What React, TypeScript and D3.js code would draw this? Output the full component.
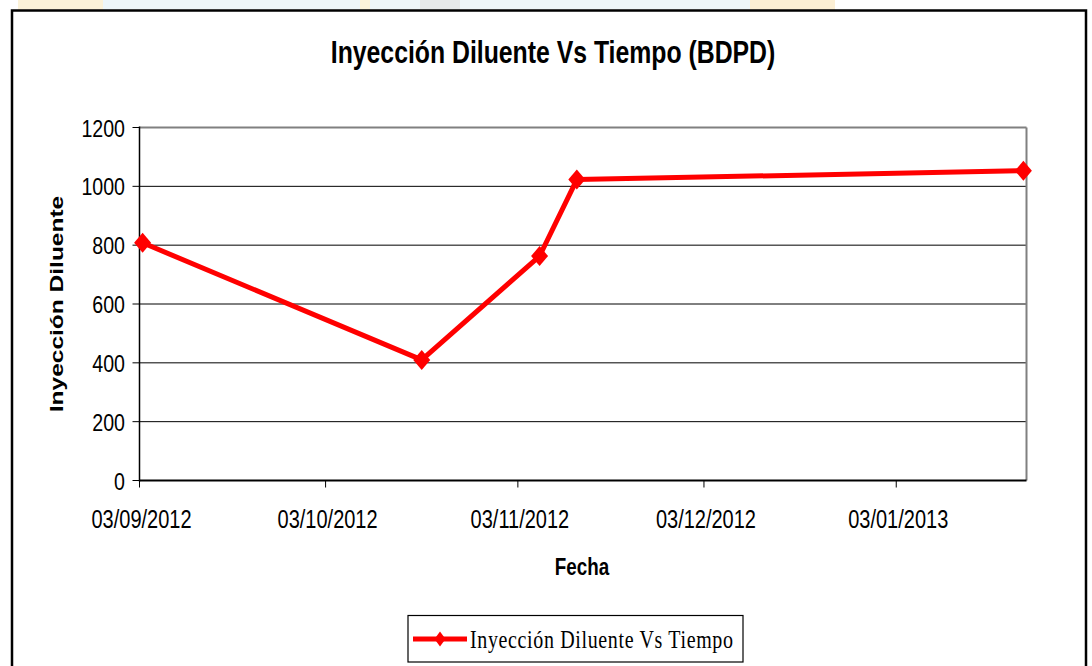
import React from "react";
import * as d3 from "d3";

const dates: string[] = ["2012-09-03", "2012-10-18", "2012-11-06", "2012-11-12", "2013-01-23"];
const values: number[] = [808, 410, 763, 1023, 1053];
const yTicks: number[] = [0, 200, 400, 600, 800, 1000, 1200];
const xTickDates: string[] = ["2012-09-03", "2012-10-03", "2012-11-03", "2012-12-03", "2013-01-03"];
const xTickLabels: string[] = ["03/09/2012", "03/10/2012", "03/11/2012", "03/12/2012", "03/01/2013"];
const title = "Inyección Diluente Vs Tiempo (BDPD)";
const xTitle = "Fecha";
const yTitle = "Inyección Diluente";
const seriesName = "Inyección Diluente Vs Tiempo";

const parse = (s: string) => {
  const [y, m, d] = s.split("-").map(Number);
  return new Date(y, m - 1, d);
};

const SX = 0.8;
const sans = "'Liberation Sans', Arial, sans-serif";
const serif = "'Liberation Serif', 'Times New Roman', serif";

function T(props: {
  x: number; y: number; size: number; anchor?: string; weight?: string | number;
  family?: string; children: React.ReactNode; textLength?: number;
}) {
  const { x, y, size, anchor = "start", weight = "normal", family = sans, children, textLength } = props;
  return (
    <text
      transform={`translate(${x},${y}) scale(${SX},1)`}
      fontSize={size}
      fontFamily={family}
      fontWeight={weight}
      textAnchor={anchor}
      fill="#000"
      textLength={textLength}
      lengthAdjust={textLength ? "spacing" : undefined}
    >
      {children}
    </text>
  );
}

export default function App() {
  const W = 1092, H = 666;
  const left = 139.5, right = 1026.5, top = 127.5, bottom = 480.5;
  const start = parse("2012-09-03");
  const end = d3.timeDay.offset(parse(dates[dates.length - 1]), 1);
  const x = d3.scaleTime().domain([start, end]).range([left, right]);
  const y = d3.scaleLinear().domain([0, 1200]).range([bottom, top]);

  const pts = dates.map((d, i) => ({ d: d3.timeHour.offset(parse(d), 12), v: values[i] }));
  const line = d3.line<{ d: Date; v: number }>().x((p) => x(p.d)).y((p) => y(p.v));

  const diamond = (cx: number, cy: number, hw: number, hh: number) =>
    `M${cx},${cy - hh}L${cx + hw},${cy}L${cx},${cy + hh}L${cx - hw},${cy}Z`;

  return (
    <div style={{ position: "fixed", left: 0, top: 0 }}>
      <svg width={W} height={H} style={{ display: "block", background: "#fff" }}>
        {/* faint slide background strip */}
        <rect x={0} y={0} width={W} height={12} fill="#ffffff" />
        <rect x={18} y={0} width={85} height={12} fill="#fcf2d8" />
        <rect x={103} y={0} width={257} height={12} fill="#edf6f9" />
        <rect x={360} y={0} width={10} height={12} fill="#fcf3da" />
        <rect x={370} y={0} width={380} height={12} fill="#edf6f9" />
        <rect x={420} y={0} width={40} height={12} fill="#e6e9ea" />
        <rect x={750} y={0} width={85} height={12} fill="#fcefd4" />

        {/* outer frame */}
        <rect x={12} y={10.5} width={1074} height={680} fill="#fff" stroke="#000" strokeWidth={2.5} />

        {/* gridlines */}
        {yTicks.filter((t) => t > 0 && t < 1200).map((t) => (
          <line key={t} x1={left} x2={right} y1={y(t)} y2={y(t)} stroke="#000" strokeWidth={1} />
        ))}
        {/* plot border top/right */}
        <line x1={left} x2={right} y1={top} y2={top} stroke="#808080" strokeWidth={2} />
        <line x1={right} x2={right} y1={top} y2={bottom} stroke="#808080" strokeWidth={2} />
        {/* axes */}
        <line x1={left} x2={left} y1={top - 1} y2={bottom + 1} stroke="#000" strokeWidth={1.5} />
        <line x1={left} x2={right} y1={bottom} y2={bottom} stroke="#000" strokeWidth={2} />

        {/* y ticks & labels */}
        {yTicks.map((t) => (
          <g key={t}>
            <line x1={left - 7} x2={left} y1={y(t)} y2={y(t)} stroke="#000" strokeWidth={1} />
            <T x={125} y={y(t) + 9} size={24.5} anchor="end">{t}</T>
          </g>
        ))}

        {/* x ticks & labels */}
        {xTickDates.map((s, i) => {
          const xx = x(parse(s));
          return (
            <g key={s}>
              <line x1={xx} x2={xx} y1={bottom} y2={bottom + 7} stroke="#000" strokeWidth={1} />
              <T x={xx + 2} y={528} size={25} anchor="middle">{xTickLabels[i]}</T>
            </g>
          );
        })}

        {/* series */}
        <path d={line(pts) || ""} fill="none" stroke="#ff0000" strokeWidth={5} strokeLinejoin="round" />
        {pts.map((p, i) => (
          <path key={i} d={diamond(x(p.d), y(p.v), 8.5, 10)} fill="#ff0000" />
        ))}

        {/* titles */}
        <T x={553} y={63} size={31} anchor="middle" weight="bold">{title}</T>
        <T x={582} y={575} size={23.5} anchor="middle" weight="bold">{xTitle}</T>
        <text
          transform={`translate(63,304) rotate(-90) scale(1,0.74)`}
          fontSize={24.5}
          fontFamily={sans}
          fontWeight="bold"
          textAnchor="middle"
          fill="#000"
        >
          {yTitle}
        </text>

        {/* legend */}
        <rect x={408} y={615.5} width={335} height={46.5} fill="#fff" stroke="#000" strokeWidth={1.2} />
        <line x1={413} x2={467} y1={639} y2={639} stroke="#ff0000" strokeWidth={5} />
        <path d={diamond(440, 639, 5.5, 7.5)} fill="#ff0000" />
        <T x={470} y={647.5} size={25} family={serif} textLength={263 / SX}>{seriesName}</T>
      </svg>
    </div>
  );
}
